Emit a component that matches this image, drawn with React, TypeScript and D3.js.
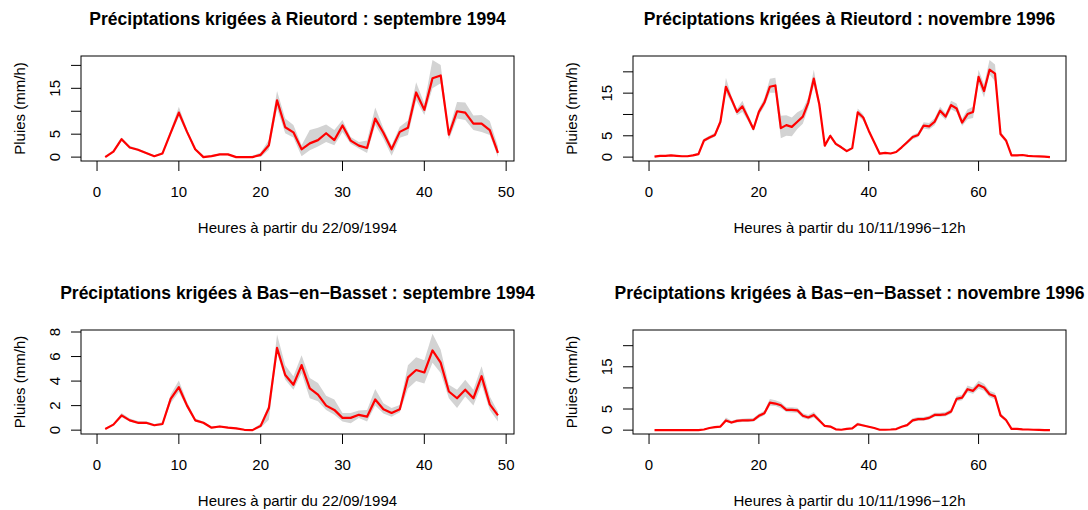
import React from 'react';
import * as d3 from 'd3';

// hourly kriged rainfall (mm/h): mean, lower and upper bound of the grey band
const rieutord94 = [0, 1.2, 3.9, 2.1, 1.6, 0.9, 0.2, 0.8, 5.3, 9.7, 5.5, 1.7, 0, 0.2, 0.6, 0.6, 0, 0, 0, 0.5, 2.6, 12.4, 6.5, 5.4, 1.7, 3.0, 3.7, 5.2, 3.7, 6.9, 3.6, 2.5, 2.0, 8.4, 5.3, 1.7, 5.5, 6.4, 14.1, 10.3, 17.2, 17.8, 4.9, 10.0, 9.7, 7.3, 7.3, 5.9, 0.9];
const rieutord94Lo = [0, 1.0, 3.5, 1.9, 1.4, 0.7, 0.05, 0.6, 4.8, 8.8, 5.0, 1.4, 0, 0.05, 0.4, 0.4, 0, 0, 0, 0, 1.6, 10.6, 5.2, 4.3, 0.2, 1.5, 2.3, 3.3, 2.6, 5.5, 2.9, 1.9, 0.9, 7.0, 4.0, 0.3, 4.2, 4.8, 12.4, 9.2, 15.0, 16.1, 3.8, 8.4, 8.1, 5.9, 5.5, 4.8, 0];
const rieutord94Hi = [0.3, 1.5, 4.3, 2.4, 1.9, 1.1, 0.4, 1.1, 5.9, 11.0, 6.0, 2.0, 0.3, 0.4, 0.8, 0.8, 0.2, 0.2, 0.3, 1.0, 3.8, 14.4, 8.4, 7.0, 2.6, 5.9, 6.4, 7.1, 5.9, 8.1, 4.4, 3.3, 3.6, 10.8, 6.3, 2.6, 6.6, 8.0, 16.3, 11.7, 21.2, 20.1, 5.9, 12.0, 11.9, 9.1, 9.2, 7.9, 2.3];

const rieutord96 = [0.1, 0.3, 0.3, 0.4, 0.3, 0.2, 0.2, 0.4, 0.7, 3.9, 4.6, 5.2, 8.3, 16.5, 13.6, 10.6, 11.9, 9.3, 6.6, 10.6, 12.8, 16.5, 16.8, 6.8, 7.5, 7.1, 8.3, 9.5, 12.8, 18.4, 12.4, 2.7, 5.0, 3.1, 2.3, 1.4, 2.1, 10.5, 9.3, 6.2, 3.5, 0.8, 1.0, 0.85, 1.2, 2.3, 3.5, 4.7, 5.2, 7.4, 7.2, 8.3, 10.9, 9.5, 12.2, 11.4, 8.1, 10.1, 10.6, 18.8, 15.5, 20.5, 19.6, 5.4, 3.9, 0.4, 0.4, 0.5, 0.3, 0.2, 0.15, 0.1, 0];
const rieutord96Lo = [0, 0.2, 0.2, 0.3, 0.2, 0.1, 0.1, 0.3, 0.5, 3.5, 4.2, 4.8, 7.6, 15.1, 12.8, 9.8, 10.6, 8.5, 6.0, 9.8, 11.9, 15.1, 15.1, 4.4, 5.0, 4.9, 6.6, 7.8, 11.6, 16.8, 11.5, 2.3, 4.6, 2.8, 2.0, 1.2, 1.8, 9.7, 8.6, 5.7, 3.2, 0.6, 0.8, 0.7, 1.0, 2.0, 3.1, 4.2, 4.7, 6.7, 6.5, 7.5, 10.0, 8.7, 11.2, 10.5, 7.3, 8.9, 9.2, 17.4, 14.0, 19.4, 17.8, 4.9, 3.5, 0.3, 0.3, 0.35, 0.2, 0.1, 0.05, 0.02, 0];
const rieutord96Hi = [0.3, 0.5, 0.5, 0.6, 0.5, 0.4, 0.4, 0.6, 1.0, 4.3, 5.0, 5.7, 9.0, 18.6, 14.4, 11.3, 13.2, 10.1, 7.2, 11.4, 13.8, 18.4, 18.6, 9.7, 9.8, 9.3, 10.5, 11.2, 14.0, 20.5, 13.3, 3.1, 5.4, 3.4, 2.6, 1.7, 2.5, 11.4, 10.0, 6.7, 3.8, 1.0, 1.2, 1.0, 1.4, 2.6, 3.9, 5.2, 5.8, 8.2, 8.0, 9.1, 11.8, 10.3, 13.2, 12.6, 9.0, 11.2, 11.8, 20.5, 17.0, 22.8, 21.7, 5.9, 4.3, 0.6, 0.6, 0.65, 0.45, 0.35, 0.3, 0.25, 0.2];

const basset94 = [0.1, 0.45, 1.2, 0.8, 0.6, 0.6, 0.4, 0.5, 2.55, 3.5, 2.0, 0.8, 0.6, 0.2, 0.3, 0.2, 0.15, 0.03, 0, 0.35, 1.8, 6.7, 4.5, 3.7, 5.3, 3.4, 2.9, 2.0, 1.65, 1.0, 1.0, 1.25, 1.1, 2.5, 1.7, 1.4, 1.7, 4.3, 4.9, 4.7, 6.5, 5.5, 3.15, 2.6, 3.3, 2.6, 4.4, 2.1, 1.2];
const basset94Lo = [0.05, 0.38, 1.05, 0.7, 0.5, 0.5, 0.32, 0.4, 2.2, 3.1, 1.8, 0.7, 0.5, 0.15, 0.22, 0.15, 0.1, 0, 0, 0.2, 0.85, 6.3, 4.1, 3.3, 4.65, 2.6, 2.35, 1.65, 1.25, 0.7, 0.57, 1.0, 0.7, 2.0, 1.35, 1.1, 1.45, 3.4, 4.0, 3.8, 5.5, 4.65, 2.6, 1.8, 2.75, 2.0, 3.7, 1.65, 0.7];
const basset94Hi = [0.15, 0.55, 1.4, 0.95, 0.75, 0.72, 0.5, 0.65, 2.9, 4.05, 2.3, 0.95, 0.7, 0.28, 0.38, 0.28, 0.22, 0.08, 0.06, 0.55, 2.1, 7.8, 5.3, 4.4, 6.1, 4.25, 3.85, 2.8, 2.5, 1.4, 1.4, 1.6, 1.65, 3.35, 2.2, 1.8, 2.05, 5.3, 5.95, 5.7, 7.85, 6.55, 3.7, 3.3, 4.1, 3.3, 5.2, 2.75, 1.5];

const basset96 = [0, 0, 0, 0, 0, 0, 0, 0, 0.02, 0.15, 0.5, 0.7, 0.85, 2.3, 1.8, 2.2, 2.3, 2.3, 2.4, 3.4, 4.0, 6.5, 6.3, 5.9, 4.8, 4.8, 4.7, 3.4, 3.0, 3.6, 2.3, 1.0, 0.85, 0.2, 0.1, 0.3, 0.4, 1.4, 1.1, 0.8, 0.5, 0.1, 0.1, 0.15, 0.25, 0.8, 1.2, 2.3, 2.6, 2.6, 2.9, 3.6, 3.6, 3.75, 4.4, 7.4, 7.7, 9.7, 9.3, 10.7, 10.1, 8.5, 8.0, 3.5, 2.4, 0.3, 0.3, 0.2, 0.15, 0.1, 0.05, 0.02, 0];
const basset96Lo = [0, 0, 0, 0, 0, 0, 0, 0, 0, 0.1, 0.4, 0.55, 0.7, 1.9, 1.5, 1.8, 1.9, 1.9, 2.0, 2.9, 3.5, 5.8, 5.7, 5.2, 4.3, 4.2, 4.1, 2.9, 2.5, 3.0, 1.9, 0.8, 0.65, 0.1, 0.05, 0.2, 0.3, 1.1, 0.9, 0.6, 0.35, 0.05, 0.05, 0.1, 0.15, 0.6, 1.0, 1.9, 2.2, 2.2, 2.5, 3.2, 3.2, 3.3, 3.9, 6.8, 7.1, 9.0, 8.6, 9.8, 9.3, 7.8, 7.3, 3.1, 2.0, 0.2, 0.2, 0.12, 0.1, 0.05, 0, 0, 0];
const basset96Hi = [0.05, 0.05, 0.05, 0.05, 0.05, 0.05, 0.05, 0.05, 0.08, 0.25, 0.7, 0.9, 1.05, 3.0, 2.2, 2.6, 2.7, 2.8, 2.9, 3.9, 4.6, 7.4, 7.1, 6.6, 5.4, 5.4, 5.3, 4.0, 3.6, 4.3, 2.8, 1.25, 1.1, 0.35, 0.2, 0.45, 0.55, 1.8, 1.4, 1.05, 0.7, 0.2, 0.2, 0.25, 0.4, 1.0, 1.5, 2.8, 3.1, 3.1, 3.4, 4.1, 4.1, 4.3, 5.0, 8.1, 8.4, 10.6, 10.1, 11.7, 11.0, 9.3, 8.8, 4.0, 2.8, 0.45, 0.45, 0.3, 0.25, 0.2, 0.12, 0.08, 0.05];

const titles = [
  'Préciptations krigées à Rieutord : septembre 1994',
  'Préciptations krigées à Rieutord : novembre 1996',
  'Préciptations krigées à Bas\u2212en\u2212Basset : septembre 1994',
  'Préciptations krigées à Bas\u2212en\u2212Basset : novembre 1996',
];
const xLabels = [
  'Heures à partir du 22/09/1994',
  'Heures à partir du 10/11/1996\u221212h',
];
const ticks94 = [0, 10, 20, 30, 40, 50];
const ticks96 = [0, 20, 40, 60];
const yTicksBig = [0, 5, 10, 15, 20];
const yLabelsBig = [0, 5, 15];
const yTicksSmall = [0, 2, 4, 6, 8];

const FONT = '"Liberation Sans", Arial, Helvetica, sans-serif';

// R-style 4% axis extension
const rangeExt = (lo: number, hi: number) => {
  const d = (hi - lo) * 0.04;
  return [lo - d, hi + d];
};

const renderPanel = (svg: any, p: any) => {
  const { box } = p;
  const n = p.mean.length;
  const x = d3.scaleLinear().domain(rangeExt(0, n)).range([box.x0, box.x1]);
  const y = d3.scaleLinear().domain(rangeExt(0, p.yMax)).range([box.y1, box.y0]);

  const g = svg.append('g');

  const area = d3.area<number>()
    .x((_, i) => x(i + 1))
    .y0((_, i) => y(p.lo[i]))
    .y1((_, i) => y(p.hi[i]));
  g.append('path').attr('d', area(p.mean)).attr('fill', '#d3d3d3');

  const line = d3.line<number>().x((_, i) => x(i + 1)).y(d => y(d));
  g.append('path')
    .attr('d', line(p.mean))
    .attr('fill', 'none')
    .attr('stroke', '#ff0000')
    .attr('stroke-width', 2.2)
    .attr('stroke-linejoin', 'round');

  g.append('rect')
    .attr('x', box.x0).attr('y', box.y0)
    .attr('width', box.x1 - box.x0).attr('height', box.y1 - box.y0)
    .attr('fill', 'none').attr('stroke', '#000').attr('stroke-width', 1);

  // x axis
  p.xTicks.forEach((t: number) => {
    g.append('line')
      .attr('x1', x(t)).attr('x2', x(t))
      .attr('y1', box.y1).attr('y2', box.y1 + 10)
      .attr('stroke', '#000');
    g.append('text')
      .attr('x', x(t)).attr('y', box.y1 + 36)
      .attr('text-anchor', 'middle')
      .attr('font-size', 15)
      .text(t);
  });

  // y axis
  p.yTicks.forEach((t: number) => {
    g.append('line')
      .attr('x1', box.x0 - 10).attr('x2', box.x0)
      .attr('y1', y(t)).attr('y2', y(t))
      .attr('stroke', '#000');
  });
  p.yLabels.forEach((t: number) => {
    g.append('text')
      .attr('transform', `translate(${box.x0 - 26},${y(t)}) rotate(-90)`)
      .attr('dy', '0.35em')
      .attr('text-anchor', 'middle')
      .attr('font-size', 15)
      .text(t);
  });

  g.append('text')
    .attr('transform', `translate(${box.x0 - 61},${(box.y0 + box.y1) / 2}) rotate(-90)`)
    .attr('dy', '0.35em')
    .attr('text-anchor', 'middle')
    .attr('font-size', 15)
    .text('Pluies (mm/h)');

  g.append('text')
    .attr('x', (box.x0 + box.x1) / 2).attr('y', box.y1 + 72)
    .attr('text-anchor', 'middle')
    .attr('font-size', 15)
    .text(p.xLabel);

  g.append('text')
    .attr('x', (box.x0 + box.x1) / 2).attr('y', box.y0 - 31.5)
    .attr('text-anchor', 'middle')
    .attr('font-size', 17.5)
    .attr('font-weight', 'bold')
    .text(p.title);
};

const panels = [
  {
    title: titles[0], xLabel: xLabels[0],
    mean: rieutord94, lo: rieutord94Lo, hi: rieutord94Hi,
    yMax: d3.max(rieutord94Hi), xTicks: ticks94, yTicks: yTicksBig, yLabels: yLabelsBig,
    box: { x0: 81, x1: 514, y0: 56, y1: 161 },
  },
  {
    title: titles[1], xLabel: xLabels[1],
    mean: rieutord96, lo: rieutord96Lo, hi: rieutord96Hi,
    yMax: d3.max(rieutord96Hi), xTicks: ticks96, yTicks: yTicksBig, yLabels: yLabelsBig,
    box: { x0: 633, x1: 1066, y0: 56, y1: 161 },
  },
  {
    title: titles[2], xLabel: xLabels[0],
    mean: basset94, lo: basset94Lo, hi: basset94Hi,
    yMax: d3.max(basset94Hi), xTicks: ticks94, yTicks: yTicksSmall, yLabels: yTicksSmall,
    box: { x0: 81, x1: 514, y0: 330, y1: 434 },
  },
  {
    // same y range as the Rieutord 1996 panel
    title: titles[3], xLabel: xLabels[1],
    mean: basset96, lo: basset96Lo, hi: basset96Hi,
    yMax: d3.max(rieutord96Hi), xTicks: ticks96, yTicks: yTicksBig, yLabels: yLabelsBig,
    box: { x0: 633, x1: 1066, y0: 330, y1: 434 },
  },
];

const App: React.FC = () => {
  const ref = React.useRef<SVGSVGElement>(null);

  React.useEffect(() => {
    const svg = d3.select(ref.current);
    svg.selectAll('*').remove();
    panels.forEach(p => renderPanel(svg, p));
  }, []);

  return (
    <svg
      ref={ref}
      width={1088}
      height={510}
      style={{ position: 'absolute', left: 0, top: 0, background: '#fff', fontFamily: FONT }}
    />
  );
};

export default App;
